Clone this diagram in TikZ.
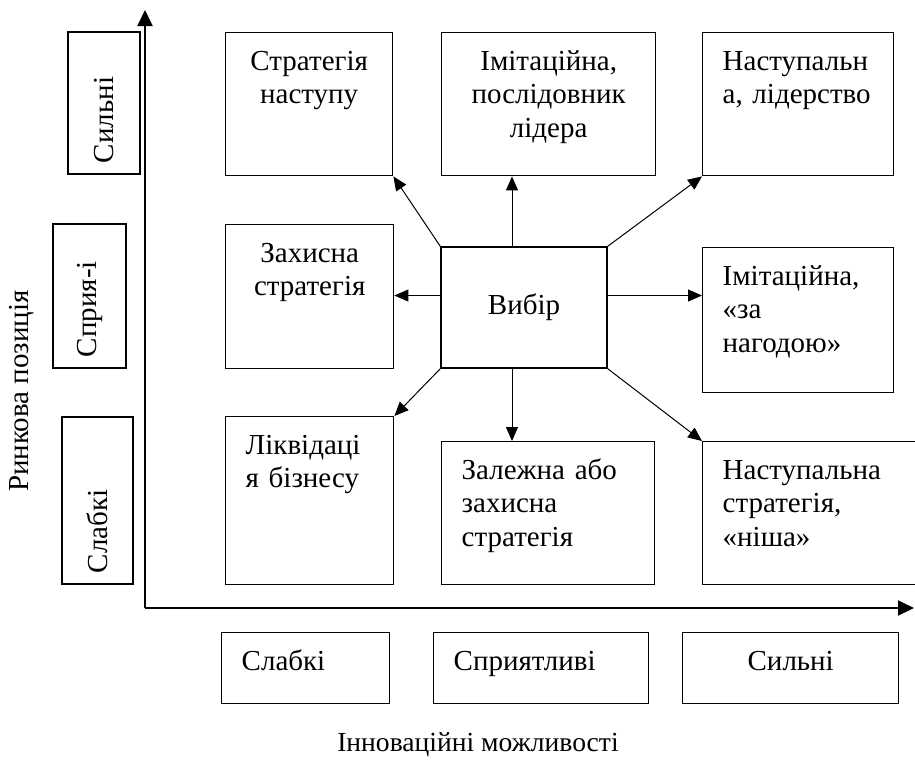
\documentclass[tikz,border=0pt]{standalone}
\usepackage{fontspec}
\setmainfont{Liberation Serif}
\usetikzlibrary{arrows.meta,positioning}

\begin{document}
\begin{tikzpicture}[x=0.5pt,y=-0.5pt,
    font=\fontsize{14.5}{16.6}\selectfont,
    cell/.style={draw,line width=0.7pt,anchor=north west,align=left,
                 inner xsep=10pt,inner ysep=0pt,text height=19pt,text depth=52.5pt},
    choice/.style={draw,line width=0.7pt,minimum width=83pt,minimum height=60.5pt},
    side/.style={draw,line width=0.7pt,rotate=90,align=left,inner xsep=5.5pt},
    ar/.style={-{Triangle[length=7pt,width=6pt]},line width=0.5pt},
    axis/.style={-{Triangle[length=8pt,width=7.5pt]},line width=1pt}]

    \useasboundingbox (0,0) rectangle (915,762);

    % strategies
    \node[cell,text width=63.5pt,align=center] (s1) at (225,32) {Стратегія\\наступу};
    \node[cell,text width=87pt,align=center] (s2) at (441,32) {Імітаційна,\\послідовник\\лідера};
    \node[cell,text width=75.5pt] (s3) at (702,32) {Наступальн\\а, лідерство};
    \node[cell,text width=64pt,text depth=53pt,align=center] (s4) at (225,224) {Захисна\\стратегія};
    \node[choice] (vybir) at (524,307.5) {Вибір};
    \node[cell,text width=75.5pt,text depth=53.5pt] (s6) at (702,247) {Імітаційна,\\«за\\нагодою»};
    \node[cell,text width=64pt,text depth=65pt] (s7) at (225,416) {Ліквідаці\\я бізнесу};
    \node[cell,text width=86.5pt] (s8) at (441,441) {Залежна або\\захисна\\стратегія};
    \node[cell,text width=89pt] (s9) at (702,441) {Наступальна\\стратегія,\\«ніша»};

    % scales
    \node[cell,text width=64pt,text depth=16.5pt] (b1) at (221,632) {Слабкі};
    \node[cell,text width=87.5pt,text depth=16.5pt] (b2) at (433,632) {Сприятливі};
    \node[cell,text width=88pt,text depth=16.5pt,align=center] (b3) at (682,632) {Сильні};
    \node[side,text width=60pt,minimum height=36pt] (l1) at (104,103) {Сильні};
    \node[side,text width=61pt,minimum height=36.5pt] (l2) at (89.5,296) {Сприя-і};
    \node[side,text width=72.5pt,minimum height=35.5pt] (l3) at (97.5,500.5) {Слабкі};

    \node[rotate=90] (ylab) at (22,391) {Ринкова позиція};
    \node[font=\fontsize{13.8}{16.6}\selectfont] (xlab) at (478,745) {Інноваційні можливості};

    \coordinate (o) at (145,608);
    \coordinate (ytop) at (145,10);
    \coordinate (xend) at (914,608);
    \draw[axis] (o) -- (ytop);
    \draw[axis] (o) -- (xend);

    \draw[ar] (vybir.north west) -- (s1.south east);
    \draw[ar] ([xshift=-6pt]vybir.north) -- ([xshift=-6pt]vybir.north |- s2.south);
    \draw[ar] (vybir.north east) -- (s3.south west);
    \draw[ar] ([yshift=6pt]vybir.west) -- ([yshift=6pt]vybir.west -| s4.east);
    \draw[ar] ([yshift=6pt]vybir.east) -- ([yshift=6pt]vybir.east -| s6.west);
    \draw[ar] (vybir.south west) -- (s7.north east);
    \draw[ar] ([xshift=-6pt]vybir.south) -- ([xshift=-6pt]vybir.south |- s8.north);
    \draw[ar] (vybir.south east) -- (s9.north west);
\end{tikzpicture}
\end{document}
